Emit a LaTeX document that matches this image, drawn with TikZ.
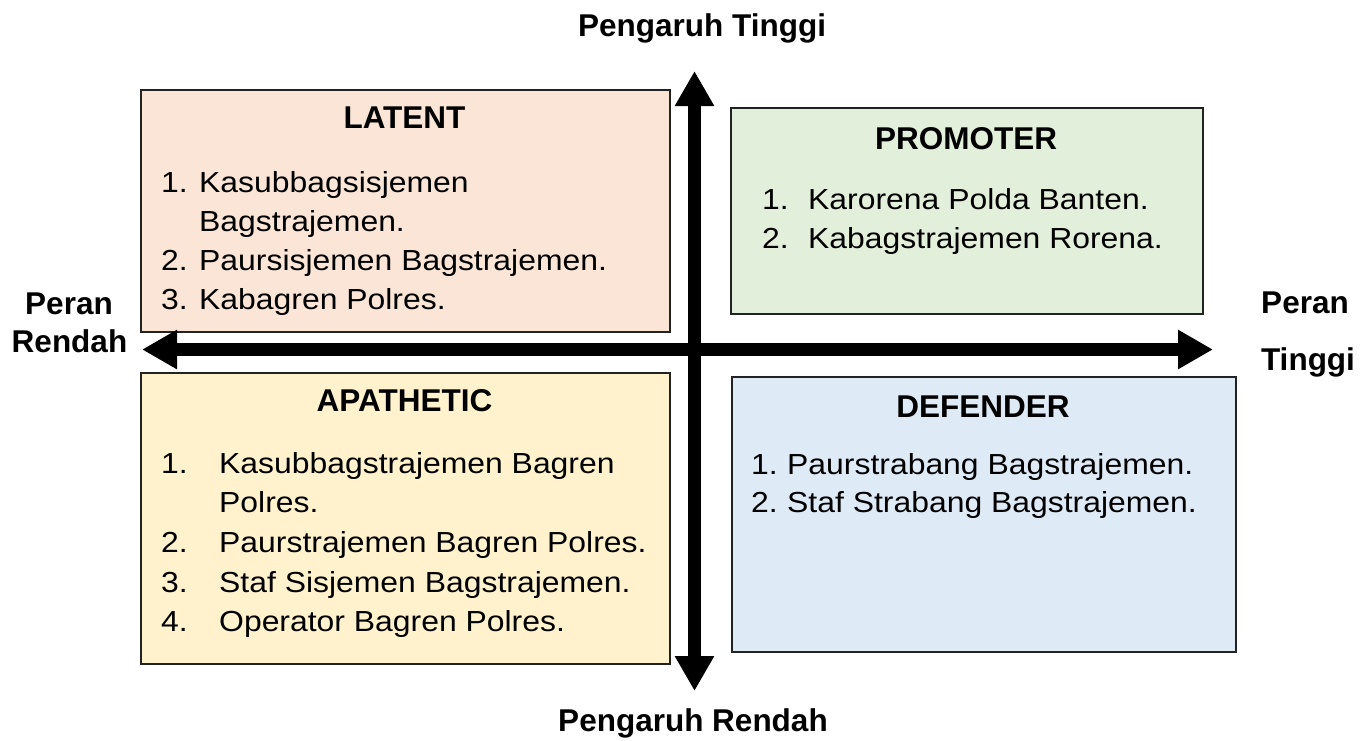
\documentclass[tikz,border=0pt]{standalone}
\usepackage{fontspec}
\setmainfont{Liberation Sans}
\newfontfamily\itemfont{Liberation Sans}[FakeStretch=1.1]
\usetikzlibrary{arrows.meta}
\definecolor{latentc}{HTML}{FBE5D6}
\definecolor{promoc}{HTML}{E2EFDA}
\definecolor{apathc}{HTML}{FFF2CC}
\definecolor{defc}{HTML}{DEEBF7}
\definecolor{edgec}{HTML}{222222}
\tikzset{
  quad/.style={draw=edgec, line width=1.6pt, anchor=north west, inner sep=0pt},
  itm/.style={font=\itemfont\fontsize{29}{35}\selectfont, inner sep=0pt, anchor=base west},
  ttl/.style={font=\bfseries\fontsize{31.5}{38}\selectfont, inner sep=0pt, anchor=base},
  axislbl/.style={font=\bfseries\fontsize{31.5}{38}\selectfont, inner sep=0pt, anchor=base},
  axis/.style={line width=13pt, draw=black, {Triangle[width=37pt,length=35pt]}-{Triangle[width=37pt,length=35pt]}}
}
\begin{document}
\begin{tikzpicture}[x=1pt,y=-1pt]
\path[use as bounding box, fill=white] (0,0) rectangle (1364,740);

% quadrant boxes
\node[quad, fill=latentc, minimum width=529pt, minimum height=242pt] (latent) at (140,89) {};
\node[quad, fill=promoc, minimum width=472pt, minimum height=206pt] (promoter) at (730,107) {};
\node[quad, fill=apathc, minimum width=529pt, minimum height=291pt] (apathetic) at (140,372) {};
\node[quad, fill=defc, minimum width=504pt, minimum height=275pt] (defender) at (731,376) {};

% axes
\coordinate (left) at (142,349.5);
\coordinate (right) at (1213,349.5);
\coordinate (top) at (694.5,71);
\coordinate (bottom) at (694.5,691);
\draw[axis] (left) -- (right);
\draw[axis] (top) -- (bottom);

% axis labels
\node[axislbl] (pt) at (702,36) {Pengaruh Tinggi};
\node[axislbl] (pr) at (693,731) {Pengaruh Rendah};
\node[axislbl] (perl) at (69,314) {Peran};
\node[axislbl] (rendahl) at (69.5,352) {Rendah};
\node[axislbl] (perr) at (1305,313) {Peran};
\node[axislbl] (tinggir) at (1308,370) {Tinggi};

% LATENT
\node[ttl] (lt) at (404.5,128) {LATENT};
\node[itm] (ln1) at (161,192) {1.};
\node[itm] (lt1) at (199,192) {Kasubbagsisjemen};
\node[itm] (lt1b) at (199,231) {Bagstrajemen.};
\node[itm] (ln2) at (161,270) {2.};
\node[itm] (lt2) at (199,270) {Paursisjemen Bagstrajemen.};
\node[itm] (ln3) at (161,309) {3.};
\node[itm] (lt3) at (199,309) {Kabagren Polres.};

% PROMOTER
\node[ttl] (pmt) at (966,149) {PROMOTER};
\node[itm] (pn1) at (762,209) {1.};
\node[itm] (pt1) at (808,209) {Karorena Polda Banten.};
\node[itm] (pn2) at (762,248) {2.};
\node[itm] (pt2) at (808,248) {Kabagstrajemen Rorena.};

% APATHETIC
\node[ttl] (at) at (404.5,411) {APATHETIC};
\node[itm] (an1) at (161,473) {1.};
\node[itm] (at1) at (219,473) {Kasubbagstrajemen Bagren};
\node[itm] (at1b) at (219,512) {Polres.};
\node[itm] (an2) at (161,552) {2.};
\node[itm] (at2) at (219,552) {Paurstrajemen Bagren Polres.};
\node[itm] (an3) at (161,592) {3.};
\node[itm] (at3) at (219,592) {Staf Sisjemen Bagstrajemen.};
\node[itm] (an4) at (161,631) {4.};
\node[itm] (at4) at (219,631) {Operator Bagren Polres.};

% DEFENDER
\node[ttl] (dt) at (983,417) {DEFENDER};
\node[itm] (dn1) at (751,474) {1.};
\node[itm] (dt1) at (787,474) {Paurstrabang Bagstrajemen.};
\node[itm] (dn2) at (751,512) {2.};
\node[itm] (dt2) at (787,512) {Staf Strabang Bagstrajemen.};
\end{tikzpicture}
\end{document}
